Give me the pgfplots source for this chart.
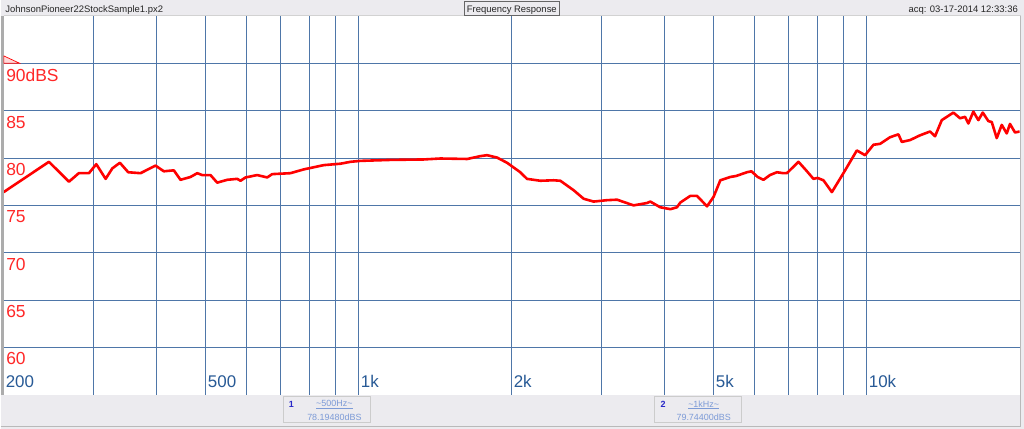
\documentclass[border=0pt]{standalone}
\usepackage{pgfplots}
\pgfplotsset{compat=1.18}
\usepackage{fontspec}
\setmainfont{Liberation Sans}
\definecolor{winbg}{RGB}{236,235,239}
\definecolor{gridblue}{RGB}{78,118,168}
\definecolor{ticklblue}{RGB}{40,90,150}
\definecolor{boxtext}{RGB}{125,155,215}
\definecolor{markerblue}{RGB}{40,40,200}
\definecolor{redline}{RGB}{255,0,0}
\definecolor{ylab}{RGB}{255,40,40}
\begin{document}
\begin{tikzpicture}
\fill[winbg] (0bp,0bp) rectangle (1024bp,429bp);
\begin{axis}[
  at={(3bp,34bp)}, anchor=south west,
  scale only axis, width=1016.6bp, height=379bp,
  xmode=log, log basis x=10,
  xmin=200, xmax=20000, ymin=55, ymax=95,
  axis line style={draw=none},
  axis background/.style={fill=white},
  xtick={200,500,1000,2000,5000,10000},
  xticklabels={200,500,1k,2k,5k,10k},
  minor xtick={300,400,600,700,800,900,3000,4000,6000,7000,8000,9000},
  ytick={60,65,70,75,80,85,90},
  yticklabels={60,65,70,75,80,85,90dBS},
  major tick length=0pt, minor tick length=0pt,
  grid=both,
  major grid style={gridblue, line width=1bp},
  minor grid style={gridblue, line width=1bp},
  xticklabel style={anchor=base west, inner sep=0pt, xshift=2bp, yshift=7.3bp,
    font=\fontsize{17}{17}\selectfont, text=ticklblue},
  yticklabel style={anchor=north west, inner sep=0pt, xshift=2.5bp, yshift=-5bp,
    font=\fontsize{17.5}{17.5}\selectfont, text=ylab},
  clip=true,
]
\addplot[redline, line width=2.6bp, line join=round, no markers] coordinates {
(200,76.4) (245.6,79.6) (268.9,77.5) (281.2,78.4) (294.4,78.4) (304.4,79.35)
(317.6,77.8) (327.3,78.9) (338.8,79.5) (351.8,78.5) (372.0,78.4) (398.2,79.2)
(413.4,78.6) (432.6,78.7) (445.9,77.7) (466.6,78.0) (481.0,78.4) (492.0,78.2)
(510.8,78.2) (526.6,77.4) (551.0,77.7) (576.6,77.8) (585.3,77.6) (598.7,77.95)
(631.2,78.2) (660.6,77.95) (675.6,78.3) (733.8,78.4) (779.6,78.8) (853.4,79.25)
(920.6,79.4) (963.2,79.6) (1008,79.7) (1154,79.8) (1343,79.85) (1448,79.95)
(1635,79.9) (1736,80.2) (1789,80.3) (1872,80.05) (1959,79.5) (2080,78.5)
(2144,77.8) (2278,77.6) (2418,77.65) (2494,77.6) (2649,76.6) (2772,75.7)
(2900,75.4) (3082,75.55) (3226,75.6) (3476,75.0) (3694,75.25) (3750,75.4)
(3924,74.8) (4106,74.6) (4232,74.8) (4296,75.3) (4494,76.0) (4634,76.0)
(4849,74.9) (4995,75.9) (5150,77.65) (5388,78.0) (5530,78.1) (5810,78.5)
(5930,78.6) (6100,78.0) (6264,77.7) (6450,78.2) (6656,78.5) (6850,78.4)
(6964,78.4) (7340,79.6) (7600,78.7) (7856,77.8) (8000,77.9) (8220,77.65)
(8540,76.4) (8998,78.4) (9562,80.8) (9928,80.3) (10310,81.4) (10628,81.5)
(11118,82.2) (11546,82.5) (11726,81.7) (12176,81.9) (12736,82.4) (13326,82.8)
(13632,82.3) (14052,84.0) (14812,84.8) (15266,84.2) (15618,84.35) (15854,83.65)
(16216,84.9) (16588,84.0) (16924,84.8) (17358,83.9) (17628,83.8) (18030,82.1)
(18444,83.5) (18866,82.6) (19148,83.6) (19586,82.7) (20000,82.8)
};
\end{axis}
% window frame
\fill[gray!65] (0bp,34bp) rectangle (3bp,413bp);
\draw[gray!35, line width=1bp] (3bp,413.5bp) -- (1021bp,413.5bp);
\draw[gray!55, line width=1.2bp] (1020.8bp,2bp) -- (1020.8bp,413bp);
\draw[gray!55, line width=1.2bp] (0bp,2.4bp) -- (1021bp,2.4bp);
% reference level marker
\filldraw[draw=red, fill=red!15, line width=0.7bp] (3.3bp,373bp) -- (19bp,365.7bp) -- (3.3bp,365.7bp) -- cycle;
% title bar
\node[anchor=base west, inner sep=0pt, font=\fontsize{9.5}{9.5}\selectfont, text=black!85] at (4.5bp,416.5bp) {JohnsonPioneer22StockSample1.px2};
\draw[black!60, line width=0.8bp] (464bp,428bp) rectangle (559bp,414bp);
\node[anchor=base, inner sep=0pt, font=\fontsize{9.5}{9.5}\selectfont, text=black!85] at (511.5bp,416.5bp) {Frequency Response};
\node[anchor=base east, inner sep=0pt, font=\fontsize{9.5}{9.5}\selectfont, text=black!85] at (1018bp,416.5bp) {acq: 03-17-2014 12:33:36};
% marker boxes
\draw[gray!40, line width=0.8bp] (283bp,32bp) rectangle (370bp,6bp);
\node[anchor=center, inner sep=0pt, font=\bfseries\fontsize{9}{9}\selectfont, text=markerblue] at (291bp,24bp) {1};
\node[anchor=center, inner sep=0pt, font=\fontsize{9}{9}\selectfont, text=boxtext] at (334bp,24bp) {\underline{\textasciitilde500Hz\textasciitilde}};
\node[anchor=center, inner sep=0pt, font=\fontsize{9}{9}\selectfont, text=boxtext] at (334bp,11.3bp) {78.19480dBS};
\draw[gray!40, line width=0.8bp] (654bp,32bp) rectangle (741bp,6bp);
\node[anchor=center, inner sep=0pt, font=\bfseries\fontsize{9}{9}\selectfont, text=markerblue] at (663bp,24bp) {2};
\node[anchor=center, inner sep=0pt, font=\fontsize{9}{9}\selectfont, text=boxtext] at (703.5bp,24bp) {\underline{\textasciitilde1kHz\textasciitilde}};
\node[anchor=center, inner sep=0pt, font=\fontsize{9}{9}\selectfont, text=boxtext] at (703.5bp,11.3bp) {79.74400dBS};
\end{tikzpicture}
\end{document}
